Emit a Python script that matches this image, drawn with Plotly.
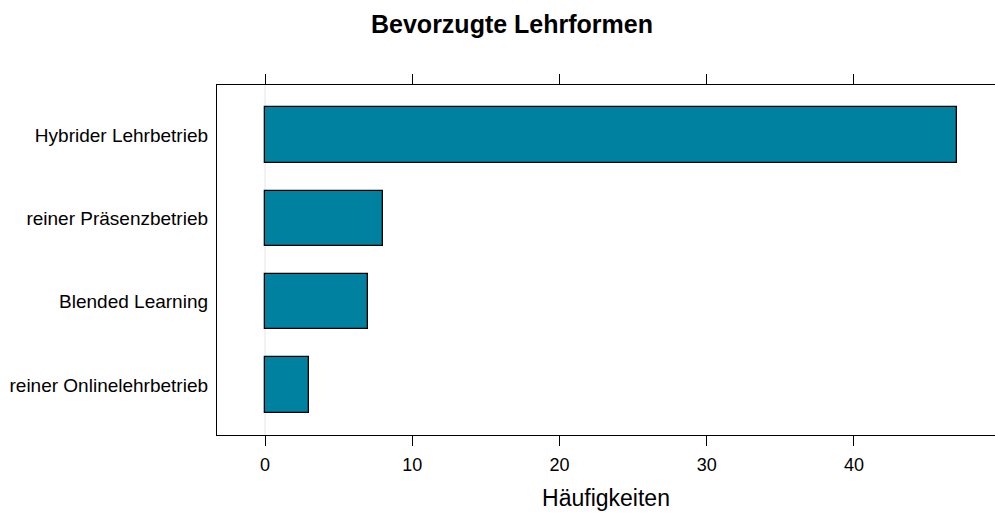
import plotly.graph_objects as go

categories = ["reiner Onlinelehrbetrieb", "Blended Learning", "reiner Präsenzbetrieb", "Hybrider Lehrbetrieb"]
counts = [3, 7, 8, 47]
x_ticks = [0, 10, 20, 30, 40]

fig = go.Figure()
fig.add_trace(go.Bar(
    x=counts, y=categories, orientation="h",
    marker=dict(color="#00819F", line=dict(color="black", width=1.3)),
    width=0.667, hoverinfo="skip",
))
fig.add_shape(type="line", x0=0, x1=0, y0=0, y1=1, xref="x", yref="paper",
              line=dict(color="#E6E6E6", width=1), layer="below")

fig.update_layout(
    width=995, height=516,
    margin=dict(l=217, r=0, t=85, b=81),
    paper_bgcolor="white", plot_bgcolor="white",
    font=dict(family="Liberation Sans, Arial, sans-serif", color="black", size=18),
    title=dict(text="<b>Bevorzugte Lehrformen</b>", x=512/995, xanchor="center",
               y=1-24/516, yanchor="middle", font=dict(size=25)),
    showlegend=False,
    bargap=0,
)
fig.update_xaxes(
    range=[-3.26, 49.58], tickvals=x_ticks, ticktext=[str(v) for v in x_ticks],
    showgrid=False, zeroline=False, showline=True, linecolor="black", linewidth=1.3,
    mirror="ticks", ticks="outside", ticklen=10, tickwidth=1.3, tickcolor="black",
    ticklabelstandoff=3,
    title=dict(text="Häufigkeiten", font=dict(size=23), standoff=16),
    tickfont=dict(size=18),
)
fig.update_yaxes(
    categoryorder="array", categoryarray=categories, range=[-0.6, 3.6],
    showgrid=False, zeroline=False, showline=True, linecolor="black", linewidth=1.3,
    ticks="", ticklabelstandoff=4, tickfont=dict(size=19),
)

fig.write_html("out.html", config={"displayModeBar": False},
               post_script="document.body.style.margin='0';document.body.style.overflow='hidden';")
